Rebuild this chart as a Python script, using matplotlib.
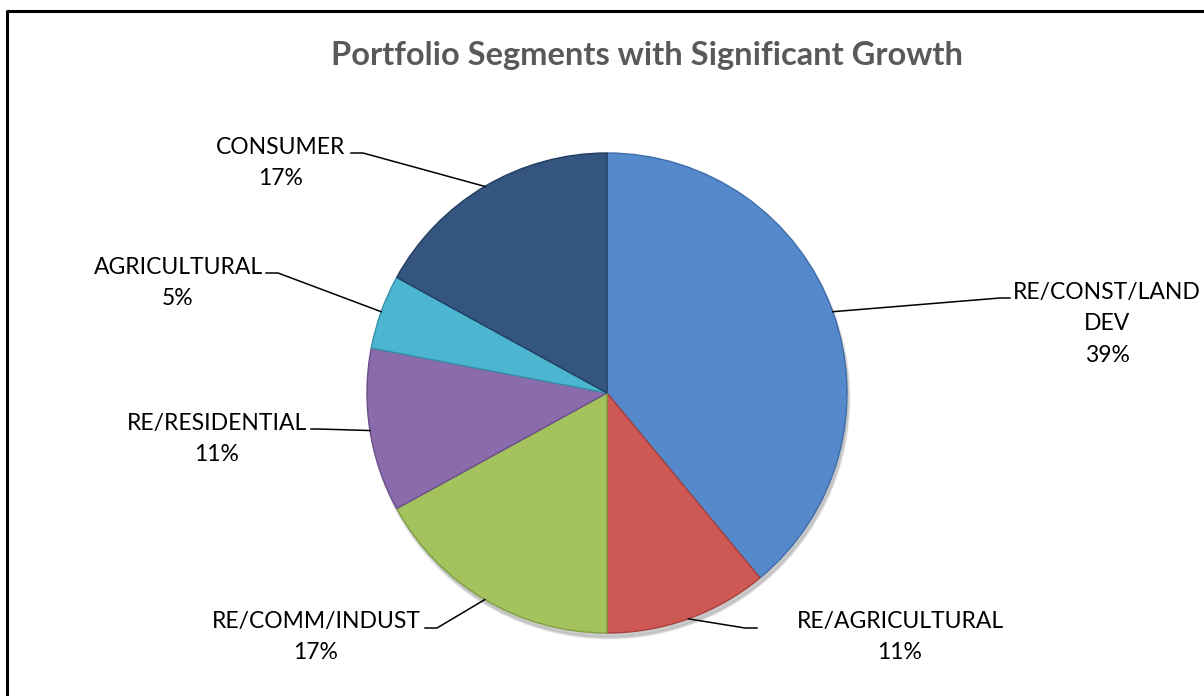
import numpy as np
from matplotlib import pyplot as plt
from matplotlib.lines import Line2D

labels = ["RE/CONST/LAND\nDEV", "RE/AGRICULTURAL", "RE/COMM/INDUST",
          "RE/RESIDENTIAL", "AGRICULTURAL", "CONSUMER"]
shares = [39, 11, 17, 11, 5, 17]
colors = ["#5589CB", "#CD5854", "#A4C35F", "#8A6BAC", "#4CB5CF", "#34557F"]
edge_colors = ["#3F6DA8", "#A8403D", "#80A040", "#6A4F8C", "#3592AA", "#223D60"]

title = "Portfolio Segments with Significant Growth"

# label layout in pixel coords: text centre, elbow of leader, end of leader
label_pos = [(1107, 324), (900, 637), (316, 637), (217, 439), (178, 283), (281, 163)]
elbows = [(1000, 298), (745, 628), (437, 628), (318, 429), (278, 273), (363, 153)]
hends = [(1010, 298), (757, 628), (425, 628), (311, 429), (266, 273), (351, 153)]

plt.rcParams['font.family'] = ['Lato', 'DejaVu Sans']

W, H = 1204, 696
fig = plt.figure(figsize=(W / 100, H / 100), dpi=100)
ax = fig.add_axes([0, 0, 1, 1])

cx, cy, r = 607, 393, 240

# soft shadow under the pie
for k in range(6):
    sh = plt.Circle((cx + 2, cy + 5), r + 1 - k * 0.5, color="#000000", alpha=0.035, zorder=1)
    ax.add_patch(sh)

# y axis is inverted below, so counterclockwise in data runs clockwise on screen
wedges, _ = ax.pie(shares, colors=colors, startangle=-90, counterclock=True,
                   center=(cx, cy), radius=r, frame=True,
                   wedgeprops=dict(linewidth=1.0, zorder=2))
for w, ec in zip(wedges, edge_colors):
    w.set_edgecolor(ec)
ax.set_xlim(0, W)
ax.set_ylim(H, 0)
ax.set_aspect('equal')
ax.axis('off')

for w, lab, share, (tx, ty), (ex, ey), (hx, hy) in zip(wedges, labels, shares, label_pos, elbows, hends):
    ang = np.deg2rad((w.theta1 + w.theta2) / 2)
    px = cx + r * np.cos(ang)
    py = cy + r * np.sin(ang)
    ax.add_line(Line2D([px, ex, hx], [py, ey, hy], color="black", lw=1.1, zorder=3))
    ax.text(tx, ty, f"{lab}\n{share}%", ha="center", va="center", fontsize=16.5,
            linespacing=1.62, color="black", zorder=4)

ax.text(W / 2 + 45, 55, title, ha="center", va="center", fontsize=23.5,
        fontweight="bold", color="#595959")

# chart frame (top and left edges visible)
ax.add_line(Line2D([7, 7, W + 5], [H + 5, 11, 11], color="black", lw=2.2, zorder=5))

fig.savefig("out.png", dpi=100)
